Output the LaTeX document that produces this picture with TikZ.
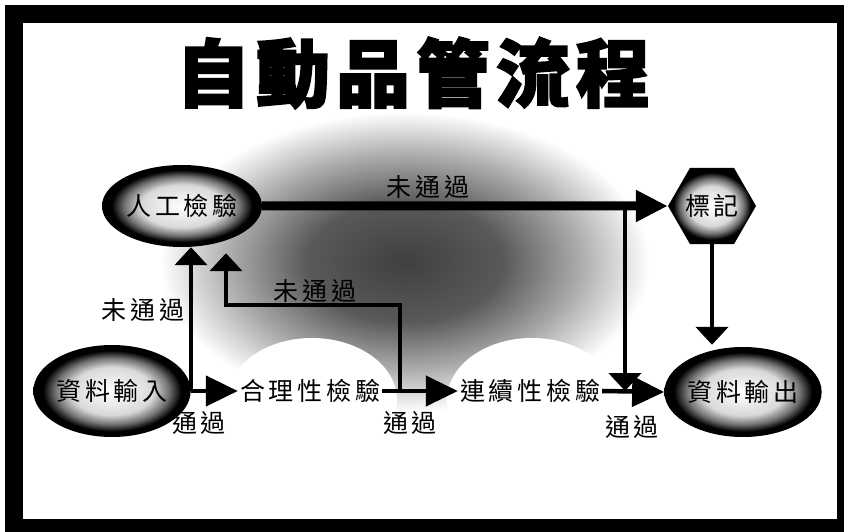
\documentclass[tikz,border=0pt]{standalone}
\usepackage{fontspec}
\usetikzlibrary{arrows.meta,shapes.geometric,calc}
\newfontfamily\cjk{Noto Sans CJK TC}[LetterSpace=15]
\newfontfamily\cjktitle{Noto Sans CJK TC}[LetterSpace=8,FakeBold=2.5]
\pgfdeclareradialshading{rimshade}{\pgfpoint{0bp}{0bp}}{color(0bp)=(white); color(13bp)=(white!85!black); color(18bp)=(white!45!black); color(22bp)=(black); color(50bp)=(black)}
\pgfdeclareradialshading{bgshade}{\pgfpoint{0bp}{0bp}}{color(0bp)=(black!75); color(10bp)=(black!65); color(18bp)=(black!32); color(25bp)=(white); color(50bp)=(white)}
\begin{document}
\begin{tikzpicture}[x=1pt,y=-1pt,
  txt/.style={font=\cjk\fontsize{25}{25}\selectfont, inner sep=0pt, text=black},
  chk/.style={txt, inner xsep=2pt},
  ell/.style={txt, ellipse, shade, shading=rimshade},
  hexa/.style={txt, regular polygon, regular polygon sides=6, shade, shading=rimshade, minimum size=88pt},
  thinline/.style={line width=4.5pt, draw=black},
  topline/.style={line width=9pt, draw=black},
  harr/.style={-{Triangle[length=32pt,width=30pt]}},
  varr/.style={-{Triangle[length=18pt,width=32pt]}}]
\useasboundingbox (0,0) rectangle (844,532);
\fill[white] (0,0) rectangle (844,532);
\fill[black] (5,5) rectangle (844,532);
\fill[white] (23,23) rectangle (837,519);
% background cloud
\shade[shading=bgshade] (405,262) ellipse [x radius=245pt, y radius=150pt];
\fill[white] (312,400) ellipse [x radius=85pt, y radius=62pt];
\fill[white] (532,400) ellipse [x radius=85pt, y radius=62pt];
% title
\node[font=\cjktitle\bfseries\fontsize{74}{74}\selectfont, inner sep=0pt] (title) at (413,73) {自動品管流程};
% nodes
\node[ell, minimum width=160pt, minimum height=82pt] (man) at (182,206) {人工檢驗};
\node[ell, minimum width=148pt, minimum height=92pt] (in) at (112,391) {資料輸入};
\node[ell, minimum width=134pt, minimum height=90pt] (out) at (743,392) {資料輸出};
\node[hexa] (mark) at (712,206) {標記};
\node[chk] (chk1) at (310,391) {合理性檢驗};
\node[chk] (chk2) at (530,391) {連續性檢驗};
% connector points
\coordinate (j1) at (191,391);
\coordinate (j2) at (400,391);
\coordinate (r1) at (400,305);
\coordinate (r2) at (226,305);
\coordinate (j3) at (625,206);
% connectors
\draw[thinline, harr] (in.east) -- (chk1.west);
\draw[thinline, varr] (j1) -- (j1 |- man.south);
\draw[thinline, harr] (chk1.east) -- (chk2.west);
\draw[thinline, varr] (j2) -- (r1) -- (r2) -- ([yshift=-6pt]r2 |- man.south);
\draw[thinline, harr] (chk2.east) -- (out.west);
\draw[topline, harr] (man.east) -- (mark.west);
\draw[thinline, varr] (j3) -- (j3 |- chk2.east);
\draw[thinline, varr] (mark.south) -- ([yshift=2pt]mark.south |- out.north);
% labels
\node[txt] (l1) at (199,423) {通過};
\node[txt] (l2) at (410,423) {通過};
\node[txt] (l3) at (632,427) {通過};
\node[txt] (l4) at (143,310) {未通過};
\node[txt] (l5) at (315,291) {未通過};
\node[txt] (l6) at (428,187) {未通過};
\end{tikzpicture}
\end{document}
